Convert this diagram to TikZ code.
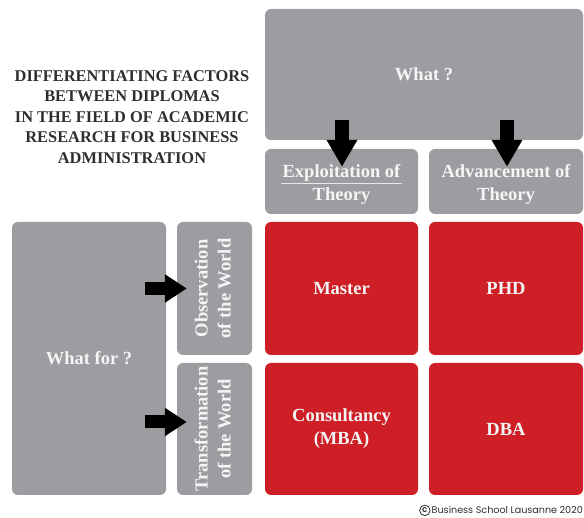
\documentclass[tikz,border=0pt]{standalone}
\usepackage{fontspec}
\usepackage{graphicx}
\setmainfont{Liberation Serif}
\newfontfamily\copyfont{Poppins}
\usetikzlibrary{arrows.meta,calc}
\definecolor{boxgray}{HTML}{9B9DA0}
\definecolor{boxred}{HTML}{CE1F26}
\definecolor{boxtext}{HTML}{F5F5F5}
\definecolor{titlecol}{HTML}{2E2E2E}
\tikzset{
  gbox/.style={fill=boxgray, rounded corners=6pt, inner sep=0pt, text=boxtext,
    font=\fontsize{18.5}{23}\selectfont\bfseries, align=center},
  rbox/.style={gbox, fill=boxred},
  bigdown/.style={line width=14pt, draw=black, -{Triangle[length=27pt,width=29pt]}},
  bigright/.style={line width=13pt, draw=black, -{Triangle[length=22pt,width=27pt]}},
}
\begin{document}
\begin{tikzpicture}[x=1pt,y=-1pt]
\useasboundingbox (0,0) rectangle (584,518);
% title
\node[text=titlecol, font=\fontsize{16.4}{20.5}\selectfont\bfseries, align=center] (title) at (132,117)
  {DIFFERENTIATING FACTORS\\BETWEEN DIPLOMAS\\IN THE FIELD OF ACADEMIC\\RESEARCH FOR BUSINESS\\ADMINISTRATION};
% top boxes
\node[gbox, minimum width=318pt, minimum height=131pt] (what) at (424,74.5) {What ?};
\node[gbox, minimum width=153pt, minimum height=65pt] (ex) at (341.5,181.5)
  {\begin{tabular}{@{}c@{}}\rule{0pt}{22pt}Exploitation of\\Theory\end{tabular}};
\node[gbox, minimum width=154pt, minimum height=65pt] (adv) at (506,181.5)
  {\begin{tabular}{@{}c@{}}\rule{0pt}{22pt}Advancement of\\Theory\end{tabular}};
\draw[draw=boxtext!85!boxgray, line width=0.6pt] ($(ex.center)+(-60.5,1.5)$) -- ++(121,0);
% left boxes
\node[gbox, minimum width=154pt, minimum height=273pt] (whatfor) at (89,358.5) {What for ?};
\node[gbox, minimum width=75pt, minimum height=133pt] (obs) at (214.5,288.5)
  {\rotatebox{90}{\begin{tabular}{@{}c@{}}Observation\\of the World\end{tabular}}};
\node[gbox, minimum width=75pt, minimum height=132pt] (trans) at (214.5,429)
  {\rotatebox{90}{\begin{tabular}{@{}c@{}}Transformation\\of the World\end{tabular}}};
% red boxes
\node[rbox, minimum width=153pt, minimum height=133pt] (master) at (341.5,288.5) {Master};
\node[rbox, minimum width=154pt, minimum height=133pt] (phd) at (506,288.5) {PHD};
\node[rbox, minimum width=153pt, minimum height=132pt] (cons) at (341.5,429) {Consultancy\\(MBA)};
\node[rbox, minimum width=154pt, minimum height=132pt] (dba) at (506,429) {DBA};
% arrows
\coordinate (a1s) at ($(what.south -| ex.center)+(0.5,-20)$);
\coordinate (a1e) at ($(ex.north)+(0.5,18)$);
\coordinate (a2s) at ($(what.south -| adv.center)+(1,-20)$);
\coordinate (a2e) at ($(adv.north)+(1,18)$);
\draw[bigdown] (a1s) -- (a1e);
\draw[bigdown] (a2s) -- (a2e);
\coordinate (a3s) at ($(whatfor.east |- obs.center)+(-21,0)$);
\coordinate (a3e) at ($(obs.west)+(10,0)$);
\coordinate (a4s) at ($(whatfor.east |- trans.center)+(-21,-7)$);
\coordinate (a4e) at ($(trans.west)+(10,-7)$);
\draw[bigright] (a3s) -- (a3e);
\draw[bigright] (a4s) -- (a4e);
% copyright
\node[anchor=base east, inner sep=0pt, text=titlecol, font=\copyfont\fontsize{9.6}{11}\selectfont] (copy) at (583,514)
  {Business School Lausanne 2020};
\node[circle, draw=titlecol, line width=0.8pt, inner sep=0.6pt, minimum size=10.5pt, text=titlecol,
  font=\copyfont\bfseries\fontsize{7}{7}\selectfont, anchor=east] (cc) at ($(copy.west)+(-1,0)$) {C};
\end{tikzpicture}
\end{document}
